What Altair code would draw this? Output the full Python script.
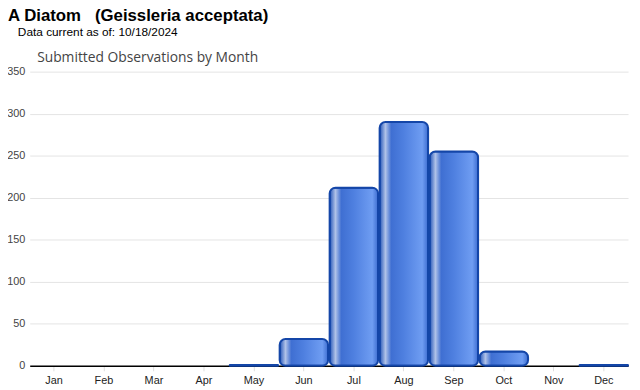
import altair as alt
import pandas as pd

months = ["Jan", "Feb", "Mar", "Apr", "May", "Jun", "Jul", "Aug", "Sep", "Oct", "Nov", "Dec"]
counts = [0, 0, 0, 0, 1, 32, 212, 290, 255, 17, 0, 1]

df = pd.DataFrame({"month": months, "count": counts})

grad = alt.LinearGradient(
    gradient="linear", x1=0, x2=1, y1=0, y2=0,
    stops=[
        alt.GradientStop(offset=0.0, color="#2354b8"),
        alt.GradientStop(offset=0.12, color="#b0c2e8"),
        alt.GradientStop(offset=0.24, color="#3f6fd2"),
        alt.GradientStop(offset=0.5, color="#4f80e0"),
        alt.GradientStop(offset=0.88, color="#6f9df2"),
        alt.GradientStop(offset=1.0, color="#3c6cd0"),
    ],
)

chart = alt.Chart(df).transform_filter(
    alt.datum["count"] > 0
).mark_bar(
    color=grad, stroke="#1446a8", strokeWidth=2, cornerRadius=6
).encode(
    x=alt.X("month:N", sort=months, title=None,
            scale=alt.Scale(domain=months, paddingInner=0.03, paddingOuter=0.0),
            axis=alt.Axis(labelAngle=0, labelFont="Arial", labelFontSize=11,
                          labelColor="#222", domainColor="#000", domainWidth=1.5,
                          tickColor="#dddddd", tickSize=5, labelPadding=4, grid=False)),
    y=alt.Y("count:Q", title="Submitted Observations by Month",
            scale=alt.Scale(domain=[0, 350], nice=False),
            axis=alt.Axis(values=[0, 50, 100, 150, 200, 250, 300, 350],
                          labelFont="Arial", labelFontSize=11, labelColor="#444",
                          domain=False, ticks=False, labelPadding=5,
                          gridColor="#e4e4e4",
                          titleAngle=0, titleAlign="left", titleBaseline="alphabetic",
                          titleX=7, titleY=-10, titleFont="Open Sans",
                          titleFontSize=14, titleFontWeight="normal", titleColor="#444")),
).properties(
    width=606, height=298,
    title=alt.TitleParams(
        text="A Diatom\u00a0\u00a0\u00a0(Geissleria acceptata)",
        subtitle="\u200b\u00a0\u00a0\u00a0Data current as of: 10/18/2024",
        anchor="start", frame="group", dx=-22, offset=12,
        font="Arial", fontSize=17, fontWeight="bold", color="#000",
        subtitleFont="Arial", subtitleFontSize=12, subtitleColor="#000",
        subtitlePadding=2,
    ),
    autosize=alt.AutoSizeParams(type="none"),
    padding={"left": 22, "top": 62, "right": 4, "bottom": 22},
).configure_view(stroke=None)

chart.save("out.html", embed_options={"renderer": "svg", "actions": False})
